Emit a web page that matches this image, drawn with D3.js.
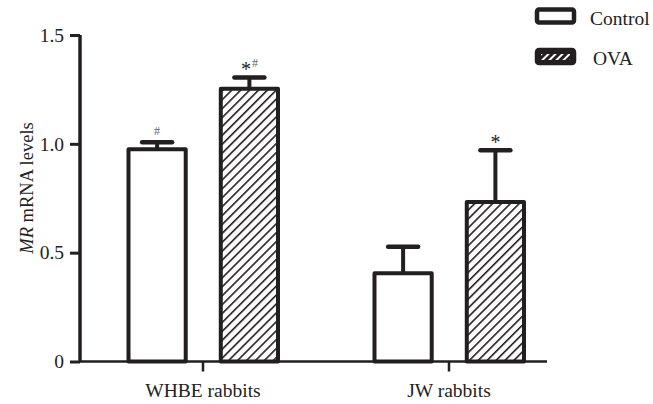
<!DOCTYPE html>
<html>
<head>
<meta charset="utf-8">
<script src="https://cdn.jsdelivr.net/npm/d3@7"></script>
<style>
  body { margin: 0; background: #fff; }
  text { font-family: "Liberation Serif", "Times New Roman", serif; fill: #222; }
</style>
</head>
<body>
<svg width="653" height="404"></svg>
<script>
// data
var groups = ["WHBE rabbits", "JW rabbits"];
var series = ["Control", "OVA"];
var means = [[0.975, 1.253], [0.405, 0.733]];
var errs = [[0.032, 0.052], [0.122, 0.238]];
var marks = [["#", "*#"], ["", "*"]];
var yTicks = [0, 0.5, 1.0, 1.5];

var svg = d3.select("svg");
var ink = "#231f20";

var y = d3.scaleLinear().domain([0, 1.5]).range([361.5, 35]);
var x = d3.scaleBand().domain(groups).range([80, 572]).paddingInner(0).paddingOuter(0.0);
var xs = d3.scaleBand().domain(series).range([-74.5, 75]).paddingInner(0.38);

// hatch pattern
var defs = svg.append("defs");
defs.append("pattern")
  .attr("id", "hatch")
  .attr("patternUnits", "userSpaceOnUse")
  .attr("width", 6.3).attr("height", 6.3)
  .attr("patternTransform", "rotate(45)")
  .append("rect")
  .attr("x", 0).attr("y", 0).attr("width", 1.6).attr("height", 6.3)
  .attr("fill", ink);
defs.append("pattern")
  .attr("id", "hatchLeg")
  .attr("patternUnits", "userSpaceOnUse")
  .attr("width", 5).attr("height", 5)
  .attr("patternTransform", "rotate(45)")
  .append("rect")
  .attr("x", 0).attr("y", 0).attr("width", 2).attr("height", 5)
  .attr("fill", "#fff");

// bars
var g = svg.append("g");
groups.forEach(function(grp, i) {
  var cx = x(grp) + x.bandwidth() / 2;
  series.forEach(function(s, j) {
    var bx = cx + xs(s);
    var bw = xs.bandwidth();
    var v = means[i][j];
    var top = y(v);
    var mid = bx + bw / 2;
    // error bar
    g.append("line")
      .attr("x1", mid).attr("x2", mid)
      .attr("y1", top).attr("y2", y(v + errs[i][j]))
      .attr("stroke", ink).attr("stroke-width", 4);
    g.append("line")
      .attr("x1", mid - 15).attr("x2", mid + 15)
      .attr("y1", y(v + errs[i][j])).attr("y2", y(v + errs[i][j]))
      .attr("stroke", ink).attr("stroke-width", 4.5).attr("stroke-linecap", "round");
    g.append("rect")
      .attr("x", bx).attr("y", top)
      .attr("width", bw).attr("height", y(0) - top)
      .attr("fill", j == 0 ? "#fff" : "url(#hatch)")
      .attr("stroke", ink).attr("stroke-width", 4)
      .attr("stroke-linejoin", "round");
    // significance marks
    var m = marks[i][j];
    if (m) {
      var t = g.append("text")
        .attr("x", mid).attr("y", y(v + errs[i][j]) - 7)
        .attr("text-anchor", "middle");
      if (m.indexOf("*") >= 0) {
        t.append("tspan").attr("font-size", 20).attr("dy", 6).text("*");
      }
      if (m.indexOf("#") >= 0) {
        t.append("tspan").attr("font-size", 12)
          .attr("dy", m.length > 1 ? -9 : 0)
          .attr("dx", m.length > 1 ? 1 : 0)
          .attr("fill", "#666")
          .text("#");
      }
    }
  });
});

// axes
var yAxis = svg.append("g").attr("transform", "translate(80,0)")
  .call(d3.axisLeft(y).tickValues(yTicks)
    .tickFormat(function(d) { return d == 0 ? "0" : d3.format(".1f")(d); })
    .tickSize(10).tickPadding(6));
yAxis.select(".domain").attr("stroke", ink).attr("stroke-width", 3.5).attr("d", "M0,35V361.5");
yAxis.selectAll(".tick line").attr("stroke", ink).attr("stroke-width", 3);
yAxis.selectAll(".tick text").attr("font-size", 19.5).attr("fill", "#222")
  .style("font-family", "Liberation Serif, serif");

var xAxis = svg.append("g").attr("transform", "translate(0,361.5)")
  .call(d3.axisBottom(x).tickSize(10).tickPadding(12));
xAxis.select(".domain").attr("stroke", ink).attr("stroke-width", 2.5).attr("d", "M79,0H547");
xAxis.selectAll(".tick").attr("transform", function(d) {
  return "translate(" + (x(d) + x.bandwidth() / 2) + ",0)";
});
xAxis.selectAll(".tick line").attr("stroke", ink).attr("stroke-width", 2.5);
xAxis.selectAll(".tick text").attr("font-size", 19.5).attr("fill", "#222")
  .style("font-family", "Liberation Serif, serif");

// y label
var yl = svg.append("text")
  .attr("transform", "translate(33,188) rotate(-90)")
  .attr("text-anchor", "middle")
  .attr("font-size", 18.5);
yl.append("tspan").attr("font-style", "italic").text("MR");
yl.append("tspan").text(" mRNA levels");

// legend
var leg = svg.append("g");
series.forEach(function(s, j) {
  var ly = j == 0 ? 9.5 : 50;
  leg.append("rect")
    .attr("x", 537).attr("y", ly).attr("width", 37).attr("height", 13)
    .attr("rx", 2)
    .attr("fill", j == 0 ? "#fff" : ink)
    .attr("stroke", ink).attr("stroke-width", 4.5);
  if (j == 1) {
    leg.append("rect")
      .attr("x", 541).attr("y", ly + 4).attr("width", 29).attr("height", 6)
      .attr("fill", "url(#hatchLeg)");
  }
  leg.append("text")
    .attr("x", j == 0 ? 590 : 593).attr("y", ly + 15)
    .attr("font-size", 19.5)
    .text(s);
});
</script>
</body>
</html>
